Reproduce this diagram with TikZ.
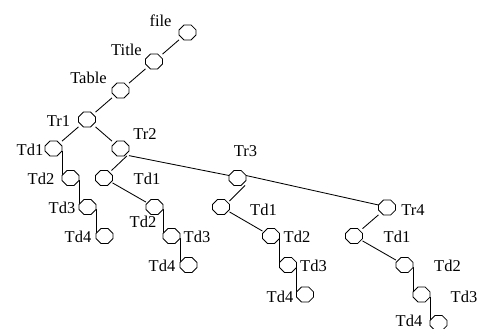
\documentclass[tikz,border=0pt]{standalone}
\usepackage{fontspec}
\setmainfont{Liberation Serif}
\tikzset{
  oct/.style={rectangle, minimum width=17pt, minimum height=15pt, inner sep=0pt, outer sep=0pt},
  octline/.style={draw, fill=white, line width=0.85pt, line join=miter},
  lbl/.style={anchor=base, inner sep=0pt, font=\fontsize{16.5}{19}\selectfont},
  edge/.style={line width=0.85pt}
}
\begin{document}
\begin{tikzpicture}[x=1pt,y=-1pt]
\useasboundingbox (0,0) rectangle (483,329);
\path
  (187.5,32.5) coordinate (pfile)
  (154,61.5) coordinate (pTitle)
  (120.5,90.5) coordinate (pTable)
  (87,119.5) coordinate (pTr1)
  (53.5,148.5) coordinate (pTda1)
  (70.5,178) coordinate (pTda2)
  (87.5,207) coordinate (pTda3)
  (104.5,236) coordinate (pTda4)
  (120.5,148.5) coordinate (pTr2)
  (104,178) coordinate (pcb)
  (154.5,207) coordinate (pTdb2)
  (171.5,236) coordinate (pTdb3)
  (188.5,265) coordinate (pTdb4)
  (237.5,178) coordinate (pTr3)
  (221,207) coordinate (pcc)
  (271,236) coordinate (pTdc2)
  (288,265) coordinate (pTdc3)
  (305,294.5) coordinate (pTdc4)
  (387,207.5) coordinate (pTr4)
  (354,236) coordinate (pcd)
  (404.5,265) coordinate (pTdd2)
  (421.5,294.5) coordinate (pTdd3)
  (438.5,323) coordinate (pTdd4);
\foreach \n in {file,Title,Table,Tr1,Tda1,Tda2,Tda3,Tda4,Tr2,cb,Tdb2,Tdb3,Tdb4,Tr3,cc,Tdc2,Tdc3,Tdc4,Tr4,cd,Tdd2,Tdd3,Tdd4}
  \node[oct] (\n) at (p\n) {};
% connectors
\begin{scope}[edge]
\draw (file) -- (Title);
\draw (Title) -- (Table);
\draw (Table) -- (Tr1);
\draw (Tr1) -- (Tda1);
\draw (Tr1) -- (Tr2);
\foreach \a/\b in {Tda1/Tda2,Tda2/Tda3,Tda3/Tda4,Tdb2/Tdb3,Tdb3/Tdb4,Tdc2/Tdc3,Tdc3/Tdc4,Tdd2/Tdd3,Tdd3/Tdd4} {
  \path ([yshift=-2.5pt]\a.east) coordinate (\a-o) ([yshift=2.5pt]\b.west) coordinate (\b-i);
  \draw (\a-o) -- (\a-o |- \b-i);
}
\draw (Tr2.-50) -- (cb.45);
\draw (cb) -- (Tdb2);
\draw (Tr2.-40) -- ([yshift=2.5pt]Tr3.west);
\draw (Tr3.-45) -- (cc.35);
\draw (cc) -- (Tdc2);
\draw ([yshift=2.5pt]Tr3.east) -- ([yshift=2.5pt]Tr4.west);
\draw (Tr4) -- (cd);
\draw (cd) -- (Tdd2);
\end{scope}
% octagon outlines on top of the connectors
\foreach \n in {file,Title,Table,Tr1,Tda1,Tda2,Tda3,Tda4,Tr2,cb,Tdb2,Tdb3,Tdb4,Tr3,cc,Tdc2,Tdc3,Tdc4,Tr4,cd,Tdd2,Tdd3,Tdd4}
  \path[octline] ([xshift=-3.6pt]\n.north) -- ([xshift=3.6pt]\n.north) -- ([yshift=2.6pt]\n.east)
    -- ([yshift=-2.6pt]\n.east) -- ([xshift=3.6pt]\n.south) -- ([xshift=-3.6pt]\n.south)
    -- ([yshift=-2.6pt]\n.west) -- ([yshift=2.6pt]\n.west) -- cycle;
% labels
\node[lbl] (Lfile) at (160.5,27) {file};
\node[lbl] (LTitle) at (126.5,55.5) {Title};
\node[lbl] (LTable) at (88.5,83.5) {Table};
\node[lbl] (LTr1) at (58.5,127) {Tr1};
\node[lbl] (LTr2) at (145,140) {Tr2};
\node[lbl] (LTda1) at (30,155.5) {Td1};
\node[lbl] (LTda2) at (41,185) {Td2};
\node[lbl] (LTda3) at (62,214) {Td3};
\node[lbl] (LTda4) at (78,243) {Td4};
\node[lbl] (LTdb1) at (147,185) {Td1};
\node[lbl] (LTdb2) at (143,228) {Td2};
\node[lbl] (LTdb3) at (197,243) {Td3};
\node[lbl] (LTdb4) at (162,272) {Td4};
\node[lbl] (LTr3) at (245.5,157) {Tr3};
\node[lbl] (LTdc1) at (263.5,215) {Td1};
\node[lbl] (LTdc2) at (297,243) {Td2};
\node[lbl] (LTdc3) at (313.5,272) {Td3};
\node[lbl] (LTdc4) at (280,302) {Td4};
\node[lbl] (LTr4) at (413,215) {Tr4};
\node[lbl] (LTdd1) at (397,243) {Td1};
\node[lbl] (LTdd2) at (447.5,272) {Td2};
\node[lbl] (LTdd3) at (464,302) {Td3};
\node[lbl] (LTdd4) at (409,326.5) {Td4};
\end{tikzpicture}
\end{document}
